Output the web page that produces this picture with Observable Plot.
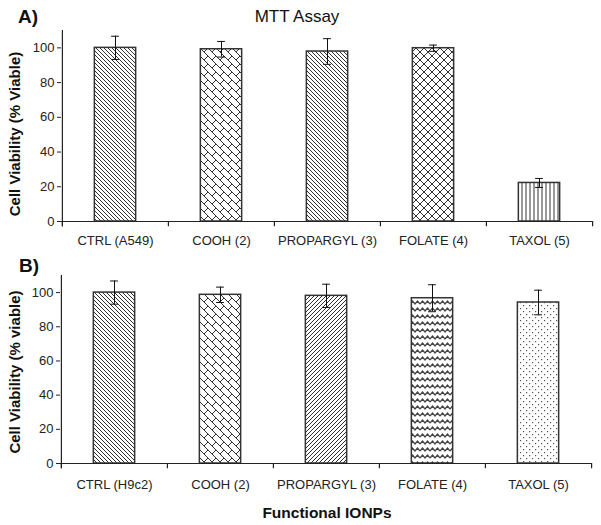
<!DOCTYPE html>
<html>
<head>
<meta charset="utf-8">
<script src="https://cdn.jsdelivr.net/npm/d3@7"></script>
<script src="https://cdn.jsdelivr.net/npm/@observablehq/plot@0.6"></script>
<style>
  html, body { margin: 0; padding: 0; background: #fff; }
  #wrap { position: relative; width: 601px; height: 525px; overflow: hidden; font-family: "Liberation Sans", Arial, sans-serif; }
  #wrap > div { position: absolute; left: 0; }
  #overlay { position: absolute; left: 0; top: 0; pointer-events: none; }
</style>
</head>
<body>
<svg width="0" height="0" style="position:absolute">
  <defs>
    <pattern id="back" width="4" height="4" patternUnits="userSpaceOnUse">
      <path d="M-1,-1 L5,5 M3,-1 L5,1 M-1,3 L1,5" stroke="#333" stroke-width="1" fill="none"/>
    </pattern>
    <pattern id="fwd" width="4" height="4" patternUnits="userSpaceOnUse">
      <path d="M-1,5 L5,-1 M-1,1 L1,-1 M3,5 L5,3" stroke="#333" stroke-width="1" fill="none"/>
    </pattern>
    <pattern id="vert" width="4" height="4" patternUnits="userSpaceOnUse">
      <path d="M2,0 L2,4" stroke="#333" stroke-width="1" fill="none"/>
    </pattern>
    <pattern id="diamond" width="8" height="8" patternUnits="userSpaceOnUse">
      <path d="M-1,-1 L9,9 M9,-1 L-1,9" stroke="#333" stroke-width="1" fill="none"/>
    </pattern>
    <pattern id="brick" width="8" height="8" patternUnits="userSpaceOnUse">
      <path d="M-2,-2 L10,10 M6,-2 L10,2 M-2,6 L2,10 M4,4 L8,0" stroke="#333" stroke-width="1" fill="none"/>
    </pattern>
    <pattern id="wave" width="10" height="7" patternUnits="userSpaceOnUse">
      <path d="M0,5 L2.5,2 L5,5 L7.5,2 L10,5" stroke="#444" stroke-width="1.3" fill="none"/>
    </pattern>
    <pattern id="dots" width="6" height="6" patternUnits="userSpaceOnUse">
      <rect x="1" y="1" width="1.2" height="1.2" fill="#555"/>
      <rect x="4" y="4" width="1.2" height="1.2" fill="#555"/>
    </pattern>
  </defs>
</svg>
<div id="wrap">
  <div id="panelA" style="top:0px"></div>
  <div id="panelB" style="top:250px"></div>
</div>
<script>
// ---- Data ----
const categoriesA = ["CTRL (A549)", "COOH (2)", "PROPARGYL (3)", "FOLATE (4)", "TAXOL (5)"];
const viabilityA = [100, 99.2, 97.9, 99.8, 22.2];
const errorA = [6.7, 4.5, 7.4, 1.8, 2.6];
const patternsA = ["back", "brick", "back", "diamond", "vert"];

const categoriesB = ["CTRL (H9c2)", "COOH (2)", "PROPARGYL (3)", "FOLATE (4)", "TAXOL (5)"];
const viabilityB = [100, 98.7, 98.1, 96.7, 94.2];
const errorB = [6.8, 4.5, 6.8, 7.9, 7.2];
const patternsB = ["back", "brick", "fwd", "wave", "dots"];

const yTicks = [0, 20, 40, 60, 80, 100];
const yMax = 110;

function panel(categories, values, errors, patterns, cfg) {
  const data = categories.map((c, i) => ({
    cat: c, v: values[i], lo: values[i] - errors[i], hi: values[i] + errors[i], pat: `url(#${patterns[i]})`
  }));
  const step = (cfg.width - cfg.marginLeft - cfg.marginRight) / categories.length;
  const barInset = (step - 41.5) / 2;
  const capInset = (step - 8) / 2;
  return Plot.plot({
    width: cfg.width,
    height: cfg.height,
    marginTop: cfg.marginTop,
    marginBottom: cfg.marginBottom,
    marginLeft: cfg.marginLeft,
    marginRight: cfg.marginRight,
    style: { fontFamily: "'Liberation Sans', Arial, sans-serif", fontSize: "13px", color: "#222", background: "transparent", overflow: "visible" },
    x: { domain: categories, padding: 0, label: null },
    y: { domain: [0, yMax], label: null },
    color: { type: "identity" },
    marks: [
      Plot.barY(data, { x: "cat", y: "v", fill: "pat", stroke: "#333", strokeWidth: 1.5, insetLeft: barInset, insetRight: barInset }),
      Plot.ruleX(data, { x: "cat", y1: "lo", y2: "hi", stroke: "#111", strokeWidth: 1 }),
      Plot.tickY(data, { x: "cat", y: "lo", stroke: "#111", strokeWidth: 1, insetLeft: capInset, insetRight: capInset }),
      Plot.tickY(data, { x: "cat", y: "hi", stroke: "#111", strokeWidth: 1, insetLeft: capInset, insetRight: capInset }),
      Plot.ruleY([0], { stroke: "#222", strokeWidth: 1.2 }),
      // y axis line
      Plot.ruleX([categories[0]], { x: d => d, dx: -step / 2, y1: -3, y2: yMax, stroke: "#222", strokeWidth: 1.2 }),
      // category boundary ticks
      Plot.ruleX(categories, { x: d => d, dx: -step / 2, y1: 0, y2: -3, stroke: "#222", strokeWidth: 1.2 }),
      Plot.ruleX([categories[categories.length - 1]], { x: d => d, dx: step / 2, y1: 0, y2: -3, stroke: "#222", strokeWidth: 1.2 }),
      Plot.axisY({ ticks: yTicks, tickSize: 4, tickPadding: 3, label: null, stroke: "#222" }),
      Plot.axisX({ tickSize: 0, tickPadding: cfg.xPad, label: null })
    ]
  });
}

document.getElementById("panelA").appendChild(panel(categoriesA, viabilityA, errorA, patternsA,
  { width: 601, height: 250, marginTop: 30, marginBottom: 29, marginLeft: 61, marginRight: 9, xPad: 14 }));
document.getElementById("panelB").appendChild(panel(categoriesB, viabilityB, errorB, patternsB,
  { width: 601, height: 250, marginTop: 25, marginBottom: 37, marginLeft: 60, marginRight: 10, xPad: 16 }));

// ---- Text overlay ----
const ns = "http://www.w3.org/2000/svg";
const ov = document.createElementNS(ns, "svg");
ov.setAttribute("id", "overlay");
ov.setAttribute("width", 601);
ov.setAttribute("height", 525);
function txt(s, x, y, size, weight, anchor, rotate) {
  const t = document.createElementNS(ns, "text");
  t.textContent = s;
  t.setAttribute("x", x);
  t.setAttribute("y", y);
  t.setAttribute("font-family", "'Liberation Sans', Arial, sans-serif");
  t.setAttribute("font-size", size);
  t.setAttribute("font-weight", weight);
  t.setAttribute("text-anchor", anchor);
  t.setAttribute("fill", "#111");
  if (rotate) t.setAttribute("transform", `rotate(-90 ${x} ${y})`);
  ov.appendChild(t);
}
txt("A)", 18, 23, 19, "bold", "start");
txt("MTT Assay", 297, 22, 17, "normal", "middle");
txt("Cell Viability (% Viable)", 20, 134, 15, "bold", "middle", true);
txt("B)", 19, 272, 19, "bold", "start");
txt("Cell Viability (% viable)", 20, 372, 15, "bold", "middle", true);
txt("Functional IONPs", 327, 518, 15.5, "bold", "middle");
document.getElementById("wrap").appendChild(ov);
</script>
</body>
</html>
